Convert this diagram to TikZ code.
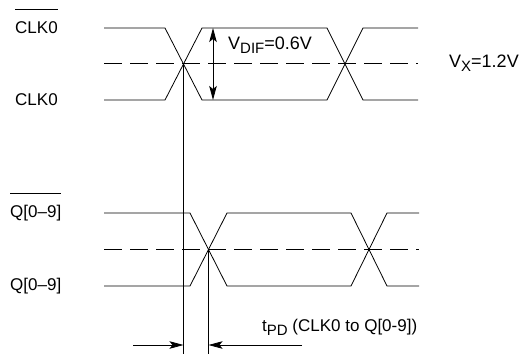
\documentclass[tikz,border=0pt]{standalone}
\usepackage{fontspec}
\setmainfont{Liberation Sans}
\usepackage{tikz}
\usetikzlibrary{arrows.meta}
\newcommand{\lowsub}[1]{\raisebox{-0.45ex}{\fontsize{15}{15}\selectfont #1}}

\tikzset{
  sig/.style={line width=0.8pt},
  mid/.style={line width=0.8pt, dash pattern=on 18pt off 8pt},
  lbl/.style={inner sep=0pt, anchor=west, font=\fontsize{17}{17}\selectfont},
  bar/.style={line width=0.8pt}
}

\begin{document}
\begin{tikzpicture}[x=1pt,y=-1pt,>={Stealth[length=14pt,width=7.5pt,inset=3pt]}]
		\useasboundingbox (0,0) rectangle (519,354);
		% clock pair
		\draw[sig] (104,28)--(165,28)--(202,100)--(327,100)--(363,28)--(418,28);
		\draw[sig] (104,100)--(165,100)--(202,28)--(327,28)--(363,100)--(418,100);
		\draw[mid] (104,63.5)--(418,63.5);
		\coordinate (xclk) at (183.5,63.5);
		% outputs
		\draw[sig] (104,213)--(190,213)--(227,286)--(351,286)--(387,213)--(419,213);
		\draw[sig] (104,286)--(190,286)--(227,213)--(351,213)--(387,286)--(419,286);
		\draw[mid] (104,249.5)--(419,249.5);
		\coordinate (xq) at (208.5,249.5);
		% reference lines
		\coordinate (bclk) at (183.5,354);
		\coordinate (bq) at (208.5,354);
		\draw[sig] (xclk)--(bclk);
		\draw[sig] (xq)--(bq);
		% V_DIF
		\coordinate (dtop) at (213,28);
		\coordinate (dbot) at (213,100);
		\draw[sig,<->] (dtop)--(dbot);
		\node[lbl,font=\fontsize{18}{18}\selectfont] (vdif) at (228,45) {V\lowsub{DIF}=0.6V};
		\node[lbl,font=\fontsize{18}{18}\selectfont] (vx) at (449,63) {V\lowsub{X}=1.2V};
		% t_PD
		\coordinate (al) at (133,345);
		\coordinate (ar) at (302,345);
		\draw[sig,->] (al)--(183.5,345);
		\draw[sig,->] (ar)--(208.5,345);
		\node[lbl] (tpd) at (262,327) {t\lowsub{PD} (CLK0 to Q[0-9])};
		% signal names
		\node[lbl] (clkn) at (15,28) {CLK0};
		\draw[bar] ([yshift=12pt]clkn.north west)--([yshift=12pt]clkn.north east);
		\node[lbl] (clk) at (15,100) {CLK0};
		\node[lbl] (qn) at (10,213) {Q[0–9]};
		\draw[bar] ([yshift=11pt]qn.north west)--([yshift=11pt]qn.north east);
		\node[lbl] (q) at (10,286) {Q[0–9]};
\end{tikzpicture}
\end{document}
